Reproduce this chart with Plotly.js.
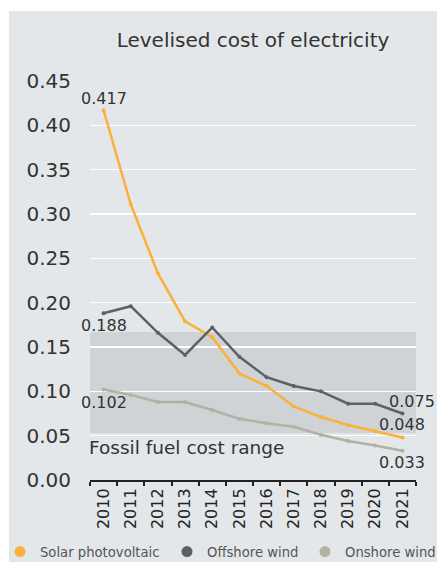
<!DOCTYPE html>
<html>
<head>
<meta charset="utf-8">
<script src="https://cdn.plot.ly/plotly-3.0.1.min.js"></script>
<style>html,body{margin:0;padding:0;background:#fff;}#chart{width:437px;height:562px;}</style>
</head>
<body>
<div id="chart"></div>
<script>
const years = ['2010','2011','2012','2013','2014','2015','2016','2017','2018','2019','2020','2021'];
const solarPV = [0.417,0.311,0.233,0.179,0.161,0.120,0.106,0.083,0.071,0.062,0.055,0.048];
const offshoreWind = [0.188,0.196,0.166,0.141,0.172,0.139,0.116,0.106,0.100,0.086,0.086,0.075];
const onshoreWind = [0.102,0.096,0.088,0.088,0.079,0.069,0.064,0.060,0.051,0.044,0.039,0.033];
const seriesNames = ['Solar photovoltaic','Offshore wind','Onshore wind'];
const fossilRange = [0.053,0.167];
const yTicks = [0,0.05,0.10,0.15,0.20,0.25,0.30,0.35,0.40,0.45];

const colors = ['#f9b13a','#5d6064','#b3b0a4'];
const font = 'DejaVu Sans, sans-serif';
const series = [solarPV, offshoreWind, onshoreWind];
const legendIds = ['legend','legend2','legend3'];
const legendX = [-1, 167, 305];

const traces = series.map((s,i)=>({
  x: years, y: s, type:'scatter', mode:'lines+markers',
  line:{color:colors[i], width:2.5}, marker:{color:colors[i], size:4},
  showlegend:false, hoverinfo:'skip'
}));
seriesNames.forEach((n,i)=>traces.push({
  x:[null], y:[null], type:'scatter', mode:'markers', name:n, legend:legendIds[i],
  marker:{color:colors[i], size:11}, showlegend:true
}));

const last = years.length-1;
const ann = (xi,y,text,opts)=>Object.assign({x:xi,y:y,text:text,xref:'x',yref:'y',showarrow:false,
  font:{family:font,size:16,color:'#333'}},opts);

const layout = {
  width:437, height:562,
  margin:{l:90, r:21, t:81, b:81.5, pad:0},
  paper_bgcolor:'#ffffff',
  plot_bgcolor:'rgba(0,0,0,0)',
  title:{text:'Levelised cost of electricity', font:{family:font, size:20, color:'#333'},
    xref:'container', yref:'container', x:0.579, y:1-40/562, xanchor:'center', yanchor:'middle'},
  xaxis:{type:'category', range:[-0.5, 11.5], tickson:'boundaries', ticks:'outside', ticklen:4,
    tickwidth:2, tickcolor:'#222', showline:true, linecolor:'#222', linewidth:2,
    showgrid:false, tickangle:-90, tickfont:{family:font, size:16, color:'#222'}, fixedrange:true},
  yaxis:{range:[0,0.45], tickvals:yTicks, tickformat:'.2f', showgrid:true, gridcolor:'#ffffff',
    gridwidth:1.5, zeroline:false, showline:false, ticks:'', ticklabelstandoff:18,
    tickfont:{family:font, size:20, color:'#333'}, fixedrange:true},
  shapes:[
    {type:'rect', xref:'paper', yref:'paper', x0:(9-90)/326, x1:(440-90)/326,
     y0:(480.5-565)/399.5, y1:(480.5-11)/399.5, fillcolor:'#e3e7ea', line:{width:0}, layer:'below'},
    {type:'rect', xref:'paper', yref:'y', x0:0, x1:1, y0:fossilRange[0], y1:fossilRange[1],
     fillcolor:'#cfd3d6', line:{width:0}, layer:'below'}
  ],
  annotations:[
    ann(0, solarPV[0], solarPV[0].toFixed(3), {yanchor:'middle', yshift:12}),
    ann(0, offshoreWind[0], offshoreWind[0].toFixed(3), {yanchor:'middle', yshift:-12}),
    ann(0, onshoreWind[0], onshoreWind[0].toFixed(3), {yanchor:'middle', yshift:-13}),
    ann(last, offshoreWind[last], offshoreWind[last].toFixed(3), {xanchor:'left', xshift:-15, yanchor:'middle', yshift:12}),
    ann(last, solarPV[last], solarPV[last].toFixed(3), {yanchor:'middle', yshift:13}),
    ann(last, onshoreWind[last], onshoreWind[last].toFixed(3), {yanchor:'middle', yshift:-12}),
    {text:'Fossil fuel cost range', xref:'paper', yref:'y', x:0, y:0.0366, xanchor:'left', yanchor:'middle',
     xshift:-3, showarrow:false, font:{family:font, size:18.5, color:'#333'}}
  ],
  showlegend:true
};
legendIds.forEach((id,i)=>{
  layout[id] = {orientation:'h', xref:'container', yref:'container', x:legendX[i]/437, y:10/562,
    xanchor:'left', yanchor:'middle', font:{family:font, size:13.2, color:'#555'},
    bgcolor:'rgba(0,0,0,0)', itemclick:false};
});
Plotly.newPlot('chart', traces, layout, {staticPlot:true, displayModeBar:false});
</script>
</body>
</html>
